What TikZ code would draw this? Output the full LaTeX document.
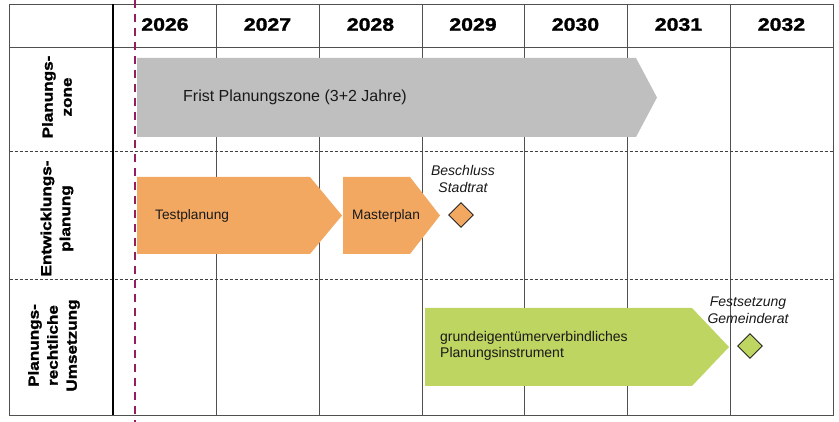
\documentclass[tikz,border=0pt]{standalone}
\usepackage{fontspec}
\setmainfont{Liberation Sans}
\newfontfamily\blk[FakeStretch=1.18,FakeBold=1.6]{Liberation Sans Bold}
\usetikzlibrary{shapes.geometric}
\definecolor{grayfill}{RGB}{191,191,191}
\definecolor{orangefill}{RGB}{243,168,97}
\definecolor{greenfill}{RGB}{190,213,98}
\definecolor{magline}{RGB}{150,30,95}
\definecolor{gridgray}{RGB}{80,80,80}
\definecolor{txt}{RGB}{25,25,25}
\begin{document}
\begin{tikzpicture}[x=1pt,y=-1pt,
  year/.style={font=\blk\fontsize{18}{20}\selectfont, text=black, inner sep=0},
  rowlabel/.style={font=\blk\fontsize{14.5}{19}\selectfont, text=black, align=center, rotate=90, inner sep=0},
  grid/.style={draw=gridgray, line width=0.9},
  rowsep/.style={draw=black!75, line width=0.8, dash pattern=on 3 off 2},
  bartext/.style={text=txt, inner sep=0, align=left},
  note/.style={text=txt, inner sep=0, align=center, font=\itshape\fontsize{14}{17}\selectfont},
  milestone/.style={diamond, draw=black!85, line width=0.9, minimum width=25, minimum height=25, inner sep=0}
]
\useasboundingbox (0,0) rectangle (839,422);
\fill[white] (0,0) rectangle (839,422);

% grid
\foreach \x in {216,319,422,524,627,730} \draw[grid] (\x,4.5) -- (\x,415);
\draw[grid] (9.5,47) -- (833,47);
\draw[rowsep] (9.5,151) -- (833,151);
\draw[rowsep] (9.5,279) -- (833,279);
\draw[grid] (9.5,4.5) rectangle (833,415);
\draw[black, line width=2] (113,4.5) -- (113,415);

% years
\node[year] (y2026) at (165,24.5) {2026};
\node[year] (y2027) at (267.5,24.5) {2027};
\node[year] (y2028) at (370.5,24.5) {2028};
\node[year] (y2029) at (473,24.5) {2029};
\node[year] (y2030) at (575.5,24.5) {2030};
\node[year] (y2031) at (678.5,24.5) {2031};
\node[year] (y2032) at (781.5,24.5) {2032};

% row labels
\node[rowlabel] (lab1) at (57,97) {Planungs-\\zone};
\node[rowlabel] (lab2) at (57,218.5) {Entwicklungs-\\planung};
\node[rowlabel] (lab3) at (54,345.5) {Planungs-\\rechtliche\\Umsetzung};

% bars
\fill[grayfill] (137,58) -- (636,58) -- (657,97.5) -- (636,137) -- (137,137) -- cycle;
\fill[orangefill] (137,177) -- (310,177) -- (342,215.5) -- (310,254) -- (137,254) -- cycle;
\fill[orangefill] (343,177) -- (410,177) -- (440,215.5) -- (410,254) -- (343,254) -- cycle;
\fill[greenfill] (425,308) -- (692,308) -- (729,347) -- (692,386) -- (425,386) -- cycle;

\node[bartext, font=\fontsize{16}{19}\selectfont] (frist) at (295,97) {Frist Planungszone (3+2 Jahre)};
\node[bartext, anchor=west, font=\fontsize{13.7}{16}\selectfont] (testpl) at (155,216) {Testplanung};
\node[bartext, anchor=west, font=\fontsize{13.7}{16}\selectfont] (master) at (352,216) {Masterplan};
\node[bartext, anchor=west, font=\fontsize{14}{16.5}\selectfont] (grund) at (440,346) {grundeigentümerverbindliches\\Planungsinstrument};

% milestones
\node[milestone, fill=orangefill] (ms1) at (461,215) {};
\node[milestone, fill=greenfill] (ms2) at (750,346) {};
\node[note] (beschluss) at (463,179) {Beschluss\\Stadtrat};
\node[note] (festsetz) at (748,310) {Festsetzung\\Gemeinderat};

% today line
\draw[magline, line width=2.4, dash pattern=on 8 off 6] (135,0) -- (135,422);
\end{tikzpicture}
\end{document}
